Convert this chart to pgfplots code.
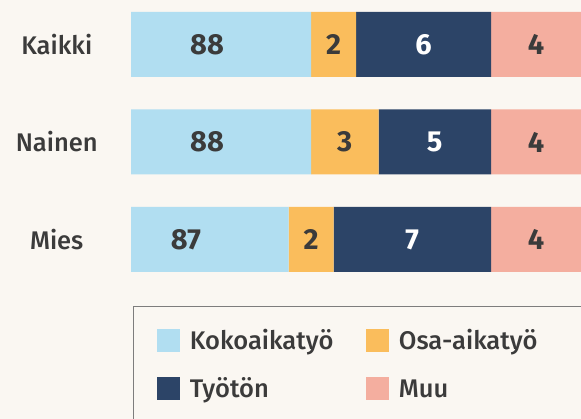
\documentclass[border=0pt]{standalone}
\usepackage{fontspec}
\setmainfont{Fira Sans}[UprightFont={* Medium}, BoldFont={* Bold}]
\usepackage{pgfplots}
\pgfplotsset{compat=1.18}
\definecolor{bg}{HTML}{FAF7F2}
\definecolor{txt}{HTML}{3B3B3B}
\definecolor{koko}{HTML}{B1DEF1}
\definecolor{osa}{HTML}{FABD5C}
\definecolor{tyoton}{HTML}{2C4467}
\definecolor{muu}{HTML}{F4AE9F}
\definecolor{frame}{HTML}{7D7D7D}

\begin{document}
\begin{tikzpicture}[x=1pt,y=1pt]
\fill[bg] (0,0) rectangle (581,419);
\begin{axis}[
  at={(131pt,0pt)}, anchor=south west,
  scale only axis, width=450pt, height=419pt,
  xmin=80, xmax=100, ymin=-0.841, ymax=3.456,
  hide axis,
  xbar stacked, bar width=65pt,
  legend columns=2,
  legend style={
    at={(0.0044,0.2697)}, anchor=north west,
    draw=frame, line width=1pt, fill=bg,
    inner xsep=23.5pt, inner ysep=20.5pt,
    font=\fontsize{25.5}{30}\selectfont, text=txt,
    cells={anchor=west},
    nodes={inner sep=0pt, text height=23pt, text depth=5pt},
    /tikz/every odd column/.append style={column sep=10pt},
    /tikz/every even column/.append style={column sep=12pt},
    row sep=19.5pt,
  },
  legend image code/.code={\fill[#1] (0pt,-11.5pt) rectangle (23pt,11.5pt);},
]
\addplot[fill=koko, draw=none] coordinates {(88,3) (88,2) (87,1)};
\addlegendentry{\makebox[164pt][l]{Kokoaikatyö}}
\addplot[fill=osa, draw=none] coordinates {(2,3) (3,2) (2,1)};
\addlegendentry{\makebox[164pt][l]{Osa-aikatyö}}
\addplot[fill=tyoton, draw=none] coordinates {(6,3) (5,2) (7,1)};
\addlegendentry{\makebox[164pt][l]{Työtön}}
\addplot[fill=muu, draw=none] coordinates {(4,3) (4,2) (4,1)};
\addlegendentry{\makebox[164pt][l]{Muu}}

% anchors for labels (drawn after the axis)
\coordinate (a1) at (axis cs:83.38,3);
\coordinate (a2) at (axis cs:89,3);
\coordinate (a3) at (axis cs:93,3);
\coordinate (a4) at (axis cs:98,3);
\coordinate (b1) at (axis cs:83.38,2);
\coordinate (b2) at (axis cs:89.5,2);
\coordinate (b3) at (axis cs:93.5,2);
\coordinate (b4) at (axis cs:98,2);
\coordinate (c1) at (axis cs:82.44,1);
\coordinate (c2) at (axis cs:88,1);
\coordinate (c3) at (axis cs:92.5,1);
\coordinate (c4) at (axis cs:98,1);
\coordinate (ka) at (axis cs:76.7,3);
\coordinate (na) at (axis cs:76.7,2);
\coordinate (mi) at (axis cs:76.7,1);
\end{axis}

\begin{scope}[every node/.style={font=\fontsize{29}{32}\selectfont\bfseries, text=txt}]
\node at (a1) {88};
\node at (a2) {2};
\node[text=white] at (a3) {6};
\node at (a4) {4};
\node at (b1) {88};
\node at (b2) {3};
\node[text=white] at (b3) {5};
\node at (b4) {4};
\node at (c1) {87};
\node at (c2) {2};
\node[text=white] at (c3) {7};
\node at (c4) {4};
\end{scope}
\begin{scope}[every node/.style={font=\fontsize{25.5}{30}\selectfont, text=txt}]
\node at (ka) {Kaikki};
\node at (na) {Nainen};
\node at (mi) {Mies};
\end{scope}
\pgfresetboundingbox
\path[use as bounding box] (0,0) rectangle (581,419);
\end{tikzpicture}
\end{document}
